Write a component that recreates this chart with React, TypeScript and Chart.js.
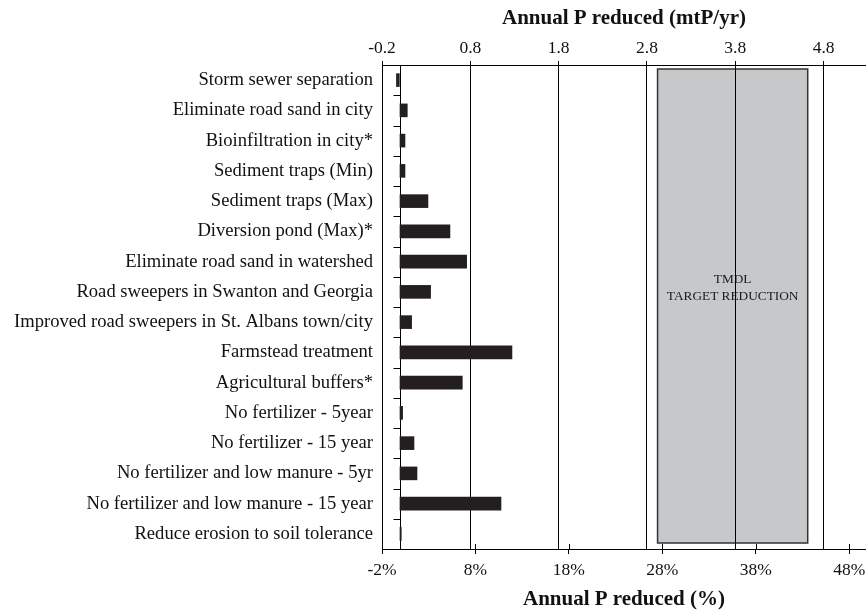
import React, { useEffect, useRef } from 'react';
import { Chart, registerables } from 'chart.js';

Chart.register(...registerables);

const categories = [
  'Storm sewer separation',
  'Eliminate road sand in city',
  'Bioinfiltration in city*',
  'Sediment traps (Min)',
  'Sediment traps (Max)',
  'Diversion pond (Max)*',
  'Eliminate road sand in watershed',
  'Road sweepers in Swanton and Georgia',
  'Improved road sweepers in St. Albans town/city',
  'Farmstead treatment',
  'Agricultural buffers*',
  'No fertilizer - 5year',
  'No fertilizer - 15 year',
  'No fertilizer and low manure - 5yr',
  'No fertilizer and low manure - 15 year',
  'Reduce erosion to soil tolerance',
];

// Annual P reduced, mtP/yr
const reductionMtP = [
  -0.04, 0.09, 0.064, 0.064, 0.324, 0.573, 0.762, 0.354,
  0.139, 1.275, 0.713, 0.037, 0.166, 0.2, 1.151, 0.022,
];

const topTicks = [-0.2, 0.8, 1.8, 2.8, 3.8, 4.8];
const bottomTicks = [-2, 8, 18, 28, 38, 48];
const topRange = [-0.2, 5.28];
const bottomRange = [-2, 49.8];
const tmdlRange = [2.92, 4.62];
const tmdlLabel = ['TMDL', 'TARGET REDUCTION'];
const topTitle = 'Annual P reduced (mtP/yr)';
const bottomTitle = 'Annual P reduced (%)';

const FONT = "'Liberation Serif', 'Times New Roman', serif";

const overlayPlugin = {
  id: 'overlay',
  beforeDraw(chart: any) {
    const { ctx, chartArea: a, scales } = chart;
    const x = scales.x;
    const x0 = x.getPixelForValue(tmdlRange[0]);
    const x1 = x.getPixelForValue(tmdlRange[1]);
    const top = a.top + 4;
    const bottom = a.bottom - 6;
    ctx.save();
    ctx.fillStyle = '#c7c8ca';
    ctx.fillRect(x0, top, x1 - x0, bottom - top);
    ctx.strokeStyle = '#333333';
    ctx.lineWidth = 1.5;
    ctx.strokeRect(x0, top, x1 - x0, bottom - top);
    ctx.fillStyle = '#1a1a1a';
    ctx.font = `13.3px ${FONT}`;
    ctx.textAlign = 'center';
    ctx.textBaseline = 'middle';
    const cx = (x0 + x1) / 2;
    const cy = top + (bottom - top) * 0.463;
    ctx.fillText(tmdlLabel[0], cx, cy - 8.5);
    ctx.fillText(tmdlLabel[1], cx, cy + 8.5);
    ctx.restore();
  },
  beforeDatasetsDraw(chart: any) {
    const { ctx, chartArea: a, scales } = chart;
    const x = scales.x;
    const y = scales.y;
    const zx = Math.round(x.getPixelForValue(0)) + 0.5;
    ctx.save();
    ctx.strokeStyle = '#000';
    ctx.lineWidth = 1;
    ctx.beginPath();
    ctx.moveTo(zx, a.top);
    ctx.lineTo(zx, a.bottom);
    for (let i = 0; i < categories.length - 1; i++) {
      const yy = Math.round((y.getPixelForValue(i) + y.getPixelForValue(i + 1)) / 2) + 0.5;
      ctx.moveTo(zx - 7, yy);
      ctx.lineTo(zx, yy);
    }
    const x2 = scales.x2;
    for (const t of bottomTicks) {
      const px = Math.round(x2.getPixelForValue(t)) + 0.5;
      ctx.moveTo(px, a.bottom - 5);
      ctx.lineTo(px, a.bottom);
    }
    ctx.stroke();
    ctx.restore();
  },
};

export default function App() {
  const ref = useRef<HTMLCanvasElement | null>(null);

  useEffect(() => {
    if (!ref.current) return;
    const chart = new Chart(ref.current, {
      type: 'bar',
      data: {
        labels: categories,
        datasets: [
          {
            data: reductionMtP,
            backgroundColor: '#231f20',
            borderWidth: 0,
            xAxisID: 'x',
            yAxisID: 'y',
            barPercentage: 0.45,
            categoryPercentage: 1,
          },
        ],
      },
      options: {
        indexAxis: 'y',
        responsive: false,
        animation: false,
        devicePixelRatio: 1,
        layout: { padding: 0 },
        plugins: {
          legend: { display: false },
          tooltip: { enabled: false },
        },
        scales: {
          y: {
            type: 'category',
            position: 'left',
            grid: { display: false, drawTicks: false },
            border: { display: true, color: '#000', width: 1 },
            ticks: {
              padding: 9,
              color: '#111',
              autoSkip: false,
              font: { family: FONT, size: 18.6 },
            },
            afterFit: (s: any) => {
              s.width = 382;
              s.paddingTop = 0;
              s.paddingBottom = 0;
            },
          },
          x: {
            type: 'linear',
            position: 'top',
            min: topRange[0],
            max: topRange[1],
            afterBuildTicks: (s: any) => {
              s.ticks = topTicks.map((v) => ({ value: v }));
            },
            grid: { color: '#000', lineWidth: 1, tickLength: 4, drawTicks: true },
            border: { display: true, color: '#000', width: 1 },
            ticks: {
              padding: 2,
              color: '#111',
              autoSkip: false,
              maxRotation: 0,
              font: { family: FONT, size: 17.5 },
              callback: (v: any) => Number(v).toFixed(1),
            },
            title: {
              display: true,
              text: topTitle,
              color: '#111',
              font: { family: FONT, size: 21, weight: 'bold', lineHeight: 1 },
              padding: { top: 8, bottom: 0 },
            },
            afterFit: (s: any) => {
              s.height = 65;
              s.paddingLeft = 0;
              s.paddingRight = 0;
            },
          },
          x2: {
            type: 'linear',
            position: 'bottom',
            min: bottomRange[0],
            max: bottomRange[1],
            afterBuildTicks: (s: any) => {
              s.ticks = bottomTicks.map((v) => ({ value: v }));
            },
            grid: { drawOnChartArea: false, color: '#000', lineWidth: 1, tickLength: 5, drawTicks: true },
            border: { display: true, color: '#000', width: 1 },
            ticks: {
              padding: 6,
              color: '#111',
              autoSkip: false,
              maxRotation: 0,
              font: { family: FONT, size: 17.5 },
              callback: (v: any) => `${v}%`,
            },
            title: {
              display: true,
              text: bottomTitle,
              color: '#111',
              font: { family: FONT, size: 21, weight: 'bold', lineHeight: 1 },
              padding: { top: 0, bottom: 0 },
            },
            afterFit: (s: any) => {
              s.height = 61;
              s.paddingLeft = 0;
              s.paddingRight = 0;
            },
          },
        },
      } as any,
      plugins: [overlayPlugin],
    });
    return () => chart.destroy();
  }, []);

  return (
    <div style={{ position: 'fixed', left: 0, top: 0, width: 866, height: 610, background: '#fff' }}>
      <canvas ref={ref} width={866} height={610} style={{ width: 866, height: 610, display: 'block' }} />
    </div>
  );
}
